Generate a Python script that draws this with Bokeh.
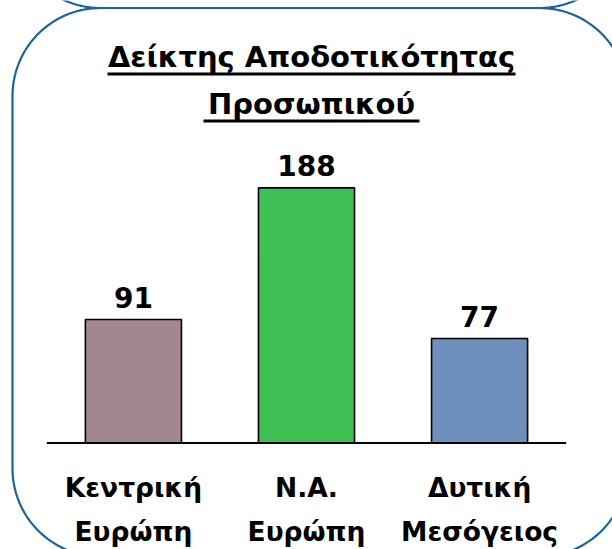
import numpy as np
from bokeh.plotting import figure
from bokeh.models import FactorRange, Range1d
from bokeh.core.properties import value
from bokeh.embed import file_html
from bokeh.resources import INLINE

# ---- data ----
title_lines = ["Δείκτης Αποδοτικότητας", "Προσωπικού"]
categories = ["Κεντρική Ευρώπη", "Ν.Α. Ευρώπη", "Δυτική Μεσόγειος"]
label_line1 = ["Κεντρική", "Ν.Α.", "Δυτική"]
label_line2 = ["Ευρώπη", "Ευρώπη", "Μεσόγειος"]
values = [91, 188, 77]
colors = ["#A2878F", "#40BF55", "#6F8FBD"]

FONT = value("DejaVu Sans")
FRAME_COLOR = "#1B6499"

W, H = 612, 549
PAD = 0.268  # synthetic padding on each side of the factor range
p = figure(
    width=W, height=H,
    x_range=FactorRange(factors=categories, range_padding=PAD, range_padding_units="absolute"),
    y_range=Range1d(-78.5, 326.1),
    output_backend="svg", toolbar_location=None,
    x_axis_location=None, y_axis_location=None, min_border=0,
)
p.grid.visible = False
p.outline_line_color = None
p.background_fill_color = "white"
p.border_fill_color = "white"

# pixel-like helper range for decoration (canvas coordinates, y down)
p.extra_y_ranges = {"px": Range1d(H, 0)}
UNIT = W / (len(categories) + 2 * PAD)


def wx(x):
    """canvas x (px) -> synthetic coordinate of the factor range"""
    return list(np.asarray(x, dtype=float) / UNIT - PAD)


def rounded_rect(l, t, r, b, rad, n=40):
    xs, ys = [], []
    corners = [
        (r - rad, t + rad, np.linspace(-np.pi / 2, 0, n)),
        (r - rad, b - rad, np.linspace(0, np.pi / 2, n)),
        (l + rad, b - rad, np.linspace(np.pi / 2, np.pi, n)),
        (l + rad, t + rad, np.linspace(np.pi, 1.5 * np.pi, n)),
    ]
    for cx, cy, ang in corners:
        xs.extend(cx + rad * np.cos(ang))
        ys.extend(cy + rad * np.sin(ang))
    xs.append(xs[0])
    ys.append(ys[0])
    return xs, ys


# frame of the chart and the bottom of the neighbouring frame above
for (l, t, r, b) in [(12, 7.5, 627, 556), (12, -600, 627, 7.5)]:
    fx, fy = rounded_rect(l, t, r, b, 88)
    p.line(wx(fx), fy, line_color=FRAME_COLOR, line_width=2.2, y_range_name="px")

# title with underline
p.text(x=wx([311, 311]), y=[56, 103], text=title_lines, y_range_name="px",
       text_font=FONT, text_font_style="bold", text_font_size="29px", text_color="black",
       text_align="center", text_baseline="alphabetic")
p.segment(x0=wx([107, 203]), x1=wx([515, 419]), y0=[73.5, 120.5], y1=[73.5, 120.5],
          y_range_name="px", line_color="black", line_width=3)

# bars
p.vbar(x=categories, top=values, bottom=0, width=0.555, fill_color=colors,
       line_color="black", line_width=1.6)

# baseline
p.segment(x0=[(categories[0], -0.5)], x1=[(categories[-1], 0.5)], y0=[0], y1=[0],
          line_color="black", line_width=2)

# value labels
p.text(x=categories, y=values, text=[str(v) for v in values], text_font=FONT,
       text_font_style="bold", text_font_size="28px", text_color="black",
       text_align="center", text_baseline="alphabetic", y_offset=-22.5)

# category labels
p.text(x=categories, y=[0] * 3, text=label_line1, text_font=FONT, text_font_style="bold",
       text_font_size="26.5px", text_color="black", text_align="center",
       text_baseline="alphabetic", y_offset=44.5)
p.text(x=categories, y=[0] * 3, text=label_line2, text_font=FONT, text_font_style="bold",
       text_font_size="26.5px", text_color="black", text_align="center",
       text_baseline="alphabetic", y_offset=88.5)

open("out.html", "w").write(file_html(p, INLINE))
